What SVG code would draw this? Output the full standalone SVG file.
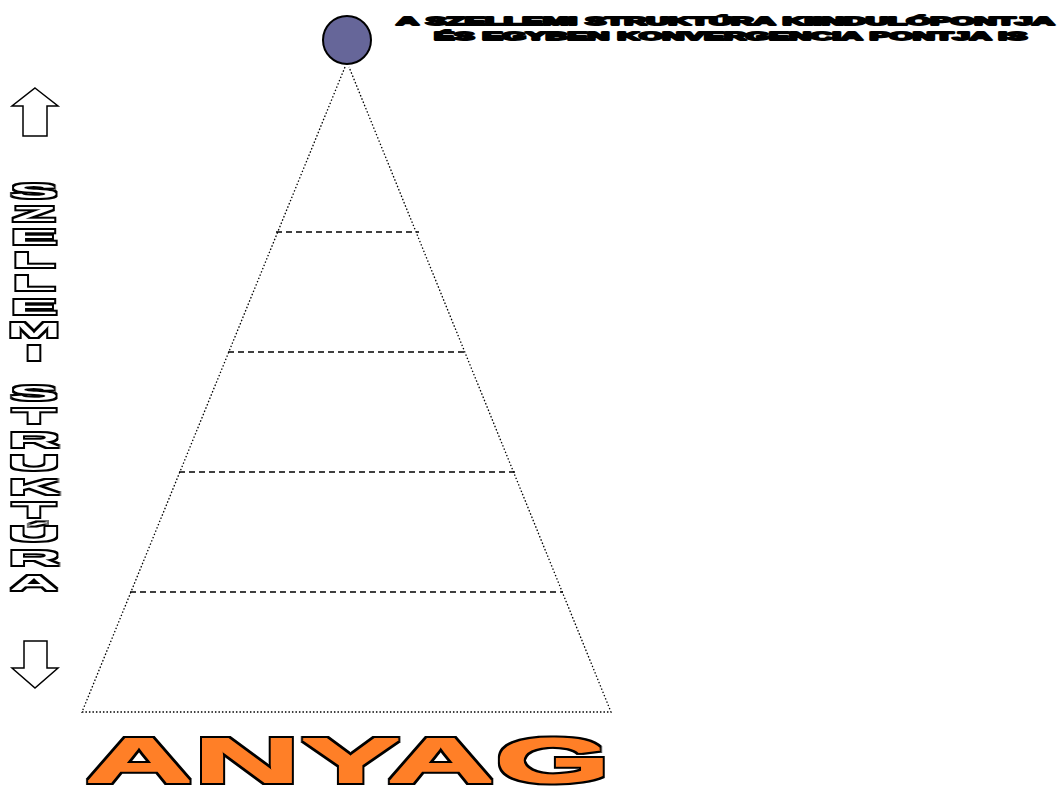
<svg xmlns="http://www.w3.org/2000/svg" width="1058" height="787" viewBox="0 0 1058 787">
<style>
.wa{font-family:"Liberation Sans",Arial,sans-serif;font-weight:bold;stroke-linejoin:round}
.vt{font-family:"Liberation Sans",Arial,sans-serif;font-weight:bold;font-size:21px;text-anchor:middle;fill:#fff}
.tt{font-size:11.5px;fill:#fff;stroke:#000;stroke-width:1.9px}
.dash{stroke:#000;stroke-width:1.5;stroke-dasharray:6 4;fill:none}
.dot{stroke:#000;stroke-width:1.3;stroke-dasharray:1.5 2;fill:none}
.arr{fill:#fff;stroke:#000;stroke-width:1.5;stroke-linejoin:miter}
.an{font-family:"Liberation Sans",Arial,sans-serif;font-weight:bold;font-size:63px;fill:#FF7F27}
</style>
<defs>
<filter id="outlineV" x="-30%" y="-10%" width="160%" height="120%" color-interpolation-filters="sRGB">
<feMorphology in="SourceAlpha" operator="dilate" radius="0.43 1.5" result="d"/>
<feFlood flood-color="#000"/>
<feComposite in2="d" operator="in" result="o"/>
<feMerge><feMergeNode in="o"/><feMergeNode in="SourceGraphic"/></feMerge>
</filter>
<filter id="outlineA" x="-5%" y="-20%" width="110%" height="140%" color-interpolation-filters="sRGB">
<feMorphology in="SourceAlpha" operator="dilate" radius="1.3" result="d1"/>
<feMorphology in="SourceAlpha" operator="dilate" radius="3.2" result="d2"/>
<feFlood flood-color="#000"/>
<feComposite in2="d2" operator="in" result="k"/>
<feFlood flood-color="#FF7F27"/>
<feComposite in2="d1" operator="in" result="or"/>
<feMerge><feMergeNode in="k"/><feMergeNode in="or"/></feMerge>
</filter>
</defs>
<rect width="1058" height="787" fill="#fff"/>
<g id="connectors">
<polyline class="dot" points="345,67 82,712 611,712 349,67"/>
<line class="dash" x1="276" y1="232" x2="419" y2="232"/>
<line class="dash" x1="228" y1="352" x2="467" y2="352"/>
<line class="dash" x1="179" y1="472" x2="515" y2="472"/>
<line class="dash" x1="130" y1="592" x2="563" y2="592"/>
</g>
<g id="apex">
<circle cx="347" cy="40" r="24" fill="#666699" stroke="#000" stroke-width="2"/>
</g>
<g id="apex-label" transform="scale(2.6,1)">
<text class="wa tt" x="152.5" y="25" textLength="253" lengthAdjust="spacingAndGlyphs">A SZELLEMI STRUKTÚRA KIINDULÓPONTJA</text>
<text class="wa tt" x="167" y="40" textLength="228" lengthAdjust="spacingAndGlyphs">ÉS EGYBEN KONVERGENCIA PONTJA IS</text>
</g>
<g id="arrow-up">
<polygon class="arr" points="35,88 58,106 47,106 47,136 23,136 23,106 12,106"/>
</g>
<g id="arrow-down">
<polygon class="arr" points="24,641 47,641 47,668 58,668 35,688 12,668 24,668"/>
</g>
<g id="vertical-label" transform="translate(34,0) scale(3.5,1)">
<g class="vt" filter="url(#outlineV)">
<text x="0" y="198">S</text><text x="0" y="221">Z</text><text x="0" y="244">E</text><text x="0" y="267">L</text><text x="0" y="290">L</text><text x="0" y="314">E</text><text x="0" y="337" transform="scale(0.88,1)">M</text><text x="0" y="360">I</text>
<text x="0" y="400">S</text><text x="0" y="423">T</text><text x="0" y="447">R</text><text x="0" y="470">U</text><text x="0" y="494">K</text><text x="0" y="517">T</text><text x="0" y="541">Ú</text><text x="0" y="565">R</text><text x="0" y="590" transform="scale(0.92,1)">A</text>
</g>
</g>
<g id="base-label">
<text class="an" x="85" y="782" filter="url(#outlineA)" textLength="526" lengthAdjust="spacingAndGlyphs">ANYAG</text>
</g>
</svg>
